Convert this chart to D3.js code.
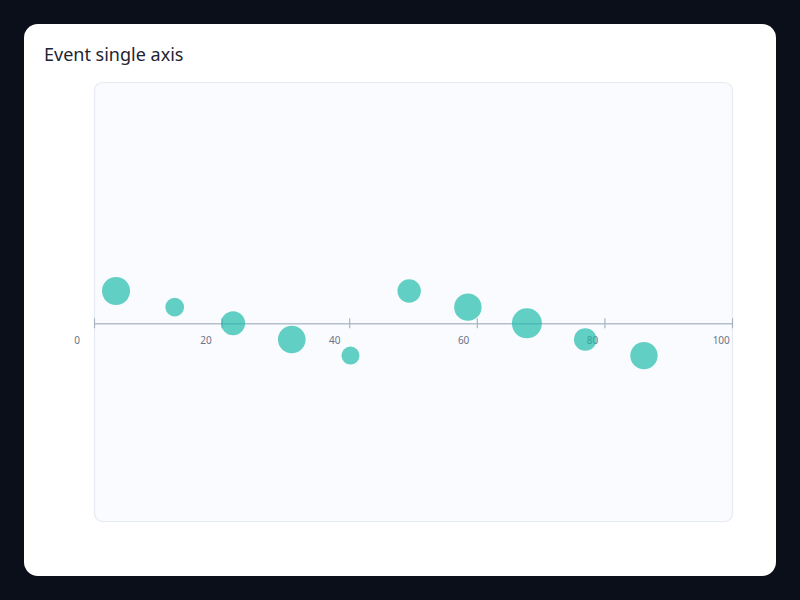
<!DOCTYPE html>
<html>
<head>
<meta charset="utf-8">
<script src="https://cdn.jsdelivr.net/npm/d3@7"></script>
<style>
  html, body { margin: 0; padding: 0; background: #0b0f1a; }
  svg { display: block; font-family: "Noto Sans", sans-serif; }
</style>
</head>
<body>
<div id="content"></div>
<script>
// data
var eventTimes = [3.45, 12.65, 21.8, 31.0, 40.2, 49.4, 58.6, 67.85, 77.0, 86.2];
var eventLanes = [2, 1, 0, -1, -2, 2, 1, 0, -1, -2];
var eventSizes = [14, 9.3, 12, 13.8, 9, 11.7, 13.7, 15, 11.3, 13.7];
var tickValues = [0, 20, 40, 60, 80, 100];
var tickLabels = ["0", "20", "40", "60", "80", "100"];

// layout
var width = 800, height = 600;
var card = {'x': 24, 'y': 24, 'w': 752, 'h': 552, 'r': 14};
var plot = {'left': 94, 'top': 82, 'right': 732, 'bottom': 521};
var axis_y = 323.3;

var svg = d3.select("#content").append("svg")
  .attr("width", width)
  .attr("height", height);

svg.append("rect")
  .attr("x", card.x).attr("y", card.y)
  .attr("width", card.w).attr("height", card.h)
  .attr("rx", card.r)
  .attr("fill", "#ffffff");

svg.append("text")
  .attr("x", 44).attr("y", 61)
  .attr("font-size", 18)
  .attr("fill", "#1e2433")
  .text("Event single axis");

svg.append("rect")
  .attr("x", plot.left + 0.5).attr("y", plot.top + 0.5)
  .attr("width", plot.right - plot.left).attr("height", plot.bottom - plot.top)
  .attr("rx", 8)
  .attr("fill", "#f9fbfe")
  .attr("stroke", "#e6eaf1")
  .attr("stroke-width", 1.2);

var x = d3.scaleLinear().domain([0, 100]).range([plot.left, plot.right]);
// labels sit slightly off their ticks in the reference
var labelX = d3.scaleLinear().domain([0, 100]).range([76.7, 720.7]);
var y = d3.scaleLinear().domain([-2, 2]).range([axis_y + 32.3, axis_y - 32.3]);
var r = d3.scaleLinear().domain([0, 15]).range([0, 15]);

var xAxis = d3.axisBottom(x)
  .tickValues(tickValues)
  .tickFormat(function(d, i) { return tickLabels[i]; })
  .tickSizeInner(10)
  .tickSizeOuter(0);

var g = svg.append("g")
  .attr("transform", "translate(0," + axis_y + ")")
  .call(xAxis);

g.select(".domain").attr("stroke", "#b6c0cd").attr("stroke-width", 1.6);
g.selectAll(".tick line")
  .attr("y1", -5).attr("y2", 5)
  .attr("stroke", "#a9b4c3").attr("stroke-width", 1.2);
g.selectAll(".tick text")
  .attr("x", function(d) { return labelX(d) - x(d); })
  .attr("y", 14)
  .attr("dy", "0.71em")
  .attr("font-size", 10)
  .attr("font-family", "Noto Sans, sans-serif")
  .attr("fill", "#6b7385");

svg.append("g").selectAll("circle")
  .data(eventTimes)
  .enter()
  .append("circle")
  .attr("cx", function(d) { return x(d); })
  .attr("cy", function(d, i) { return y(eventLanes[i]); })
  .attr("r", function(d, i) { return r(eventSizes[i]); })
  .attr("fill", "#14b8a6")
  .attr("fill-opacity", 0.66);
</script>
</body>
</html>
